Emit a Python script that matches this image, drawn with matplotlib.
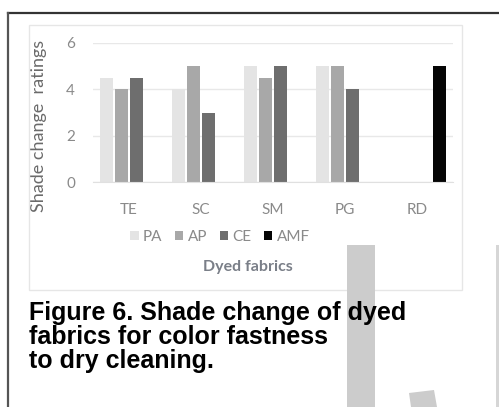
import numpy as np
import matplotlib
matplotlib.use("Agg")
import matplotlib.pyplot as plt
from matplotlib.patches import Rectangle, Polygon
from matplotlib.lines import Line2D

# shade change ratings after dry cleaning
fabrics = ["TE", "SC", "SM", "PG", "RD"]
dyes = ["PA", "AP", "CE", "AMF"]
pa = [4.5, 4, 5, 5, 0]
ap = [4, 5, 4.5, 5, 0]
ce = [4.5, 3, 5, 4, 0]
amf = [0, 0, 0, 0, 5]
colors = ["#e4e4e4", "#a8a8a8", "#6e6e6e", "#050505"]

caption_lines = ["Figure 6. Shade change of dyed",
                 "fabrics for color fastness",
                 "to dry cleaning."]

W, H = 499, 407
fig = plt.figure(figsize=(W / 100, H / 100), dpi=100)


def px(x0, y0, x1, y1):
    # pixel box (top-left origin) -> figure fraction rect
    return [x0 / W, 1 - y1 / H, (x1 - x0) / W, (y1 - y0) / H]


# outer frame and chart panel
fig.add_artist(Line2D([8 / W, 1], [1 - 13 / H, 1 - 13 / H], color="#333333", lw=1.6))
fig.add_artist(Line2D([8 / W, 8 / W], [0, 1 - 13 / H], color="#555555", lw=1.6))
fig.add_artist(Rectangle((29 / W, 1 - 290 / H), 433 / W, 265 / H, fill=False,
                         ec="#e6e6e6", lw=1.0))

ax = fig.add_axes(px(93, 43, 453, 182))
x = np.arange(len(fabrics))
w = 0.19
step = 0.208
for i, (name, vals) in enumerate(zip(dyes, [pa, ap, ce, amf])):
    ax.bar(x + (i - 1.5) * step, vals, width=w, color=colors[i], label=name, zorder=2)

ax.set_xlim(-0.5, len(fabrics) - 0.5)
ax.set_ylim(0, 6)
ax.set_yticks([0, 2, 4, 6])
ax.set_xticks(x)
ax.set_xticklabels(fabrics)
ax.yaxis.grid(True, color="#e8e8e8", lw=1.0, zorder=0)
for s in ["top", "right", "left"]:
    ax.spines[s].set_visible(False)
ax.spines["bottom"].set_color("#e0e0e0")
ax.tick_params(axis="both", length=0, labelsize=11, labelcolor="#8a8a8a")
ax.tick_params(axis="x", pad=15)
ax.tick_params(axis="y", pad=13)
for t in ax.get_xticklabels() + ax.get_yticklabels():
    t.set_fontfamily("Lato")

ax.set_ylabel("Shade change  ratings", fontsize=13, color="#6a6a6a", family="Lato")
ax.yaxis.set_label_coords(-0.128, 0.40)

leg = ax.legend(loc="center", bbox_to_anchor=(220 / W, 1 - 237 / H),
                bbox_transform=fig.transFigure, ncol=4, frameon=False,
                prop={"family": "Lato", "size": 11}, handlelength=0.55,
                handleheight=0.55, handletextpad=0.3, columnspacing=0.8)
for t in leg.get_texts():
    t.set_color("#8a8a8a")

fig.text(248 / W, 1 - 267 / H, "Dyed fabrics", ha="center", va="center",
         fontsize=11.5, fontweight="bold", color="#7a7f88", family="Lato")

# grey shapes lying behind the caption
fig.add_artist(Rectangle((347 / W, 0), 28 / W, (H - 245) / H, color="#cccccc", lw=0))
fig.add_artist(Rectangle((496 / W, 0), 3 / W, (H - 245) / H, color="#d6d6d6", lw=0))
fig.add_artist(Polygon([(409 / W, 1 - 393 / H), (434 / W, 1 - 390 / H),
                        (437 / W, 0), (411 / W, 0)], closed=True,
                       color="#cccccc", lw=0))

for k, line in enumerate(caption_lines):
    fig.text(29 / W, 1 - (320 + 24 * k) / H, line, ha="left", va="baseline",
             fontsize=18, fontweight="bold", family="Liberation Sans",
             color="black", zorder=5)

fig.savefig("out.png", dpi=100)
